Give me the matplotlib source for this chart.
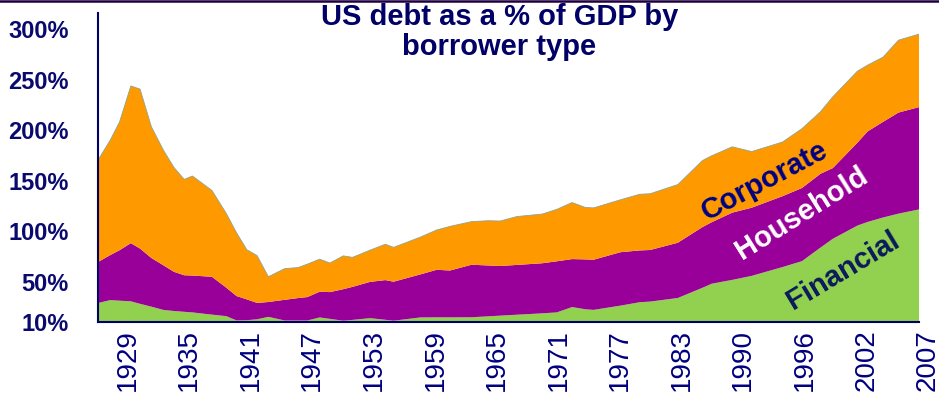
import numpy as np
import matplotlib
matplotlib.use('Agg')
import matplotlib.pyplot as plt
from matplotlib.lines import Line2D
from matplotlib.transforms import ScaledTranslation

plt.rcParams['font.family'] = ['Liberation Sans', 'DejaVu Sans']

# debt as % of GDP, stacked bottom to top
years = [1927.0, 1928.2, 1929.1, 1930.2, 1931.1, 1932.2, 1933.4, 1934.4, 1935.4, 1936.2,
         1938.1, 1939.5, 1940.5, 1941.5, 1942.5, 1943.6, 1945.2, 1946.5, 1947.4, 1948.6,
         1949.6, 1950.9, 1951.8, 1953.5, 1955.0, 1955.8, 1958.4, 1960.0, 1961.3, 1963.4,
         1965.0, 1966.2, 1967.8, 1970.3, 1971.7, 1973.2, 1974.5, 1975.3, 1977.9, 1979.8,
         1980.8, 1983.5, 1985.9, 1986.8, 1988.8, 1990.7, 1993.7, 1995.6, 1997.4, 1998.6,
         2001.0, 2002.0, 2003.5, 2005.0, 2007.0]
financial = [28.8, 31.7, 31.1, 30.5, 28.0, 25.2, 21.9, 20.9, 20.1, 19.5,
             17.3, 15.8, 11.6, 11.8, 12.7, 15.1, 11.5, 11.5, 11.5, 14.5,
             13.1, 11.3, 12.1, 13.8, 12.2, 11.3, 14.5, 14.6, 14.6, 14.7,
             15.6, 16.3, 17.2, 18.6, 19.5, 24.8, 22.6, 22.0, 26.2, 29.6,
             30.2, 33.8, 43.9, 47.9, 51.7, 55.7, 64.4, 70.3, 83.7, 92.4,
             105.5, 109.1, 113.5, 117.3, 121.5]
household = [40.6, 44.6, 50.0, 57.6, 54.7, 48.2, 44.1, 38.8, 36.2, 36.5,
             37.5, 28.2, 24.1, 20.6, 16.2, 14.7, 20.5, 22.2, 23.2, 25.5,
             26.5, 31.2, 32.7, 35.9, 39.3, 38.6, 42.6, 47.1, 46.4, 52.0,
             50.4, 49.2, 49.3, 49.6, 50.6, 47.5, 49.4, 49.7, 52.9, 51.3,
             51.1, 54.7, 60.1, 60.9, 66.6, 67.5, 70.2, 72.4, 73.1, 70.0,
             82.1, 89.7, 94.7, 100.1, 101.3]
corporate = [100.9, 113.9, 127.0, 155.7, 157.9, 130.0, 113.7, 103.4, 94.9, 98.6,
             85.5, 73.5, 62.7, 49.2, 46.9, 25.0, 30.9, 30.2, 32.6, 32.2,
             28.8, 33.0, 29.2, 31.4, 35.5, 34.0, 36.9, 39.4, 43.7, 42.7,
             44.3, 44.5, 47.9, 48.7, 51.4, 56.0, 51.4, 51.3, 51.9, 55.6,
             55.7, 57.6, 65.9, 65.8, 65.2, 55.6, 53.6, 58.8, 61.4, 70.6,
             70.8, 65.6, 64.1, 71.7, 72.3]

tick_years = [1929, 1935, 1941, 1947, 1953, 1959, 1965, 1971, 1977, 1983, 1989, 1995, 2001, 2007]
tick_labels = ['1929', '1935', '1941', '1947', '1953', '1959', '1965', '1971',
               '1977', '1983', '1990', '1996', '2002', '2007']
y_ticks = [10, 50, 100, 150, 200, 250, 300]

NAVY = '#000080'

fig = plt.figure(figsize=(9.39, 3.94), dpi=100)
ax = fig.add_axes([98/939, 1 - 322/394, 821/939, 309/394])

ax.stackplot(years, financial, household, corporate,
             colors=['#92d050', '#990099', '#ff9900'], linewidth=0)
total = np.array(financial) + np.array(household) + np.array(corporate)
ax.plot(years, total, color='#8fa58f', lw=0.6)

ax.set_xlim(1927, 2007)
ax.set_ylim(10, 316)

ax.set_yticks(y_ticks)
ax.set_yticklabels(['%d%%' % v for v in y_ticks])
for lab in ax.get_yticklabels():
    lab.set_weight('bold')
ax.tick_params(axis='y', length=0, pad=21, labelsize=17, labelcolor='#0a0a6e')

ax.set_xticks(tick_years)
ax.set_xticklabels(tick_labels, rotation=90)
ax.tick_params(axis='x', length=0, pad=5, labelsize=20, labelcolor=NAVY)
shift = ScaledTranslation(9/100, 0, fig.dpi_scale_trans)
for lab in ax.get_xticklabels():
    lab.set_transform(lab.get_transform() + shift)

for side in ['top', 'right']:
    ax.spines[side].set_visible(False)
for side in ['left', 'bottom']:
    ax.spines[side].set_color('#000066')
    ax.spines[side].set_linewidth(1.5)

# series names written on the areas
ax.text(1992.0, 150, 'Corporate', rotation=28, ha='center', va='center',
        rotation_mode='anchor', fontsize=21, weight='bold', color=NAVY)
ax.text(1995.6, 118, 'Household', rotation=32, ha='center', va='center',
        rotation_mode='anchor', fontsize=21, weight='bold', color='white')
ax.text(1999.6, 61, 'Financial', rotation=31, ha='center', va='center',
        rotation_mode='anchor', fontsize=21, weight='bold', color='#0a1a5a')

fig.text(0.532, 0.993, 'US debt as a % of GDP by\nborrower type', ha='center', va='top',
         fontsize=21, weight='bold', color='#000066', linespacing=1.1)

fig.add_artist(Line2D([0, 1], [1 - 1/394, 1 - 1/394], transform=fig.transFigure,
                      color='#1e0040', lw=1.8))

fig.savefig('out.png', dpi=100)
